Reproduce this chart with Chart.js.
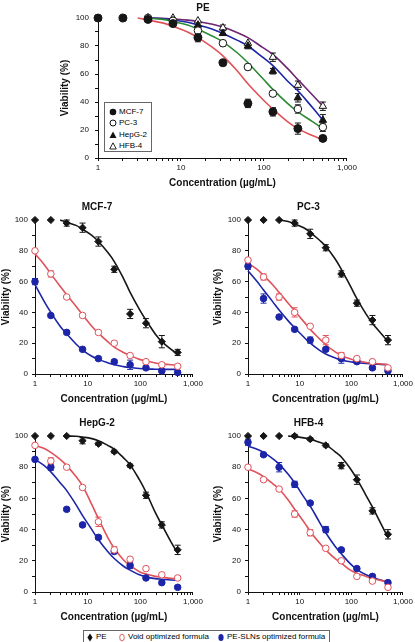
<!DOCTYPE html>
<html lang="en">
<head>
<meta charset="UTF-8">
<title>PE viability curves</title>
<script src="https://cdn.jsdelivr.net/npm/chart.js"></script>
<style>
  * { margin: 0; padding: 0; box-sizing: border-box; }
  body { width: 415px; height: 642px; background: #fff; position: relative; overflow: hidden;
         font-family: "Liberation Sans", Arial, sans-serif; }
  canvas { position: absolute; z-index: 1; }
  .legend { position: absolute; z-index: 5; background: #fff; border: 1px solid #666; font-size: 8px; color: #000; line-height: 1;
            opacity: 0.999; will-change: opacity; -webkit-font-smoothing: antialiased; }
  .legend .item { display: flex; align-items: center; white-space: nowrap; color: #000; }
  .legend svg { flex: none; }
  #topLegend { left: 104px; top: 102px; width: 48px; height: 50px; padding: 3px 0 0 4px; }
  #topLegend .item { height: 11.5px; }
  #topLegend svg { margin-right: 2px; }
  #bottomLegend { left: 83px; top: 630px; width: 247px; height: 13px; }
  #bottomLegend .item { position: absolute; top: 1px; height: 10px; }
  #bottomLegend svg { margin-right: 3px; }
</style>
</head>
<body>
<canvas id="cTop" width="300" height="191" style="left:59px;top:0px"></canvas>
<canvas id="cMcf" width="205" height="207" style="left:0px;top:200px"></canvas>
<canvas id="cPc" width="203" height="207" style="left:212px;top:200px"></canvas>
<canvas id="cHep" width="205" height="209" style="left:0px;top:416px"></canvas>
<canvas id="cHfb" width="203" height="209" style="left:212px;top:416px"></canvas>

<div class="legend" id="topLegend">
  <div class="item"><svg width="8" height="8"><circle cx="4" cy="4" r="3.3" fill="#111"/></svg>MCF-7</div>
  <div class="item"><svg width="8" height="8"><circle cx="4" cy="4" r="3" fill="#fff" stroke="#111" stroke-width="1"/></svg>PC-3</div>
  <div class="item"><svg width="8" height="8"><polygon points="4,0.5 7.5,7 0.5,7" fill="#111"/></svg>HepG-2</div>
  <div class="item"><svg width="8" height="8"><polygon points="4,0.8 7.3,7 0.7,7" fill="#fff" stroke="#111" stroke-width="0.9"/></svg>HFB-4</div>
</div>
<div class="legend" id="bottomLegend">
  <div class="item" style="left:3px"><svg width="6" height="9"><polygon points="3,0.5 5.6,4.5 3,8.5 0.4,4.5" fill="#111"/></svg>PE</div>
  <div class="item" style="left:35px"><svg width="6" height="9"><ellipse cx="3" cy="4.5" rx="2.3" ry="3.4" fill="#fff" stroke="#d9534f" stroke-width="0.9"/></svg>Void optimized formula</div>
  <div class="item" style="left:134px"><svg width="6" height="9"><ellipse cx="3" cy="4.5" rx="2.6" ry="3.6" fill="#1c25a8"/></svg>PE-SLNs optimized formula</div>
</div>

<script>
// concentrations (µg/mL) for measured points
const conc = [1, 2, 4, 8, 16, 32, 64, 128, 256, 512];
const fitConc = [1, 1.5, 2, 3, 4, 6, 8, 12, 16, 24, 32, 48, 64, 96, 128, 192, 256, 384, 512];
const xTickLabels = ['1', '10', '100', '1,000'];

// --- top panel: PE on four cell lines ---
const peMcf7 = [100, 100, 99, 96, 86, 68, 39, 33, 21, 14];
const peMcf7Err = [0, 0, 0, 2, 3, 0, 3, 3, 4, 2];
const pePc3 = [null, null, 100, 98, 91, 82, 65, 46, 35, 22];
const pePc3Err = [0, 0, 0, 0, 2, 2, 2, 2, 3, 3];
const peHep = [null, null, 100, 98, 95, 89, 80, 62, 43, 27];
const peHepErr = [0, 0, 0, 0, 0, 0, 2, 2, 3, 4];
const peHfb = [null, null, 100, 100, 98, 93, 82, 72, 52, 37];
const peHfbErr = [0, 0, 0, 0, 0, 2, 0, 3, 3, 3];

const fitPeMcf7 = [null, null, null, 100, 98.5, 96.5, 94, 90, 86, 79, 73, 62, 53, 42, 35, 26, 21, 16, 13];
const fitPePc3 = [null, null, null, null, 100, 99, 97.5, 95, 92, 87, 83, 75, 68, 57, 49, 39, 33, 26, 21];
const fitPeHep = [null, null, null, null, 100, 99.5, 98.5, 97, 95, 92, 89, 84, 80, 72, 66, 55, 48, 36, 27];
const fitPeHfb = [null, null, null, null, 100, 99.8, 99.3, 98.5, 97.5, 95.5, 93.5, 89.5, 86, 79, 74, 64, 56, 45, 37];

// --- MCF-7 panel ---
const mcfPe = [100, 100, 98, 95, 86, 68, 39, 33, 21, 14];
const mcfPeErr = [0, 0, 2, 3, 3, 2, 3, 3, 4, 2];
const mcfVoid = [80, 65, 50, 38, 27, 20, 12, 8, 6, 5];
const mcfVoidErr = [1, 2, 1, 1, 0, 1, 1, 0, 0, 0];
const mcfSln = [60, 38, 27, 16, 10, 8, 6, 4, 2, 1];
const mcfSlnErr = [2, 1, 1, 1, 1, 1, 3, 1, 1, 1];
const fitMcfPe = fitPeMcf7;
const fitMcfVoid = [78, 71, 65, 57, 51.5, 44, 38.5, 31, 26.5, 21, 17.5, 14, 12, 9.5, 8.5, 7.2, 6.6, 6, 5.8];
const fitMcfSln = [58, 47, 40, 31, 26, 19.5, 15.5, 11.5, 9.5, 7.3, 6, 4.8, 4.2, 3.6, 3.3, 3.1, 3, 3, 3];

// --- PC-3 panel ---
const pcPe = [100, 100, 100, 98, 91, 82, 65, 46, 35, 22];
const pcPeErr = [0, 0, 0, 2, 3, 2, 2, 2, 3, 3];
const pcVoid = [74, 63, 50, 40, 31, 22, 12, 10, 8, 4];
const pcVoidErr = [1, 2, 2, 3, 0, 3, 2, 0, 0, 0];
const pcSln = [70, 49, 37, 29, 22, 16, 10, 8, 4, 2];
const pcSlnErr = [2, 3, 1, 1, 2, 1, 3, 1, 1, 1];
const fitPcPe = fitPePc3;
const fitPcVoid = [72, 68, 64, 58, 53, 46, 41, 34, 29, 23, 19, 14.5, 12, 9.8, 8.7, 7.5, 7, 6.5, 6.2];
const fitPcSln = [67, 60, 54.5, 47, 41.5, 34.5, 30, 24, 20, 15.5, 13, 10.5, 9, 8, 7.3, 6.8, 6.5, 6.2, 6];

// --- HepG-2 panel ---
const hepPe = [100, 100, 100, 97, 95, 90, 81, 62, 43, 27];
const hepPeErr = [0, 0, 0, 2, 1, 1, 1, 2, 2, 3];
const hepVoid = [94, 84, 80, 67, 45, 27, 21, 15, 11, 9];
const hepVoidErr = [1, 2, 1, 1, 3, 2, 1, 1, 1, 1];
const hepSln = [85, 80, 53, 43, 35, 26, 17, 9, 6, 3];
const hepSlnErr = [1, 2, 1, 1, 1, 1, 2, 1, 1, 1];
const fitHepPe = [null, null, null, null, 100, 99.8, 99.3, 98.3, 97, 94, 91.5, 86, 81.5, 72, 64, 51, 43, 32, 25];
const fitHepVoid = [94, 92, 89.5, 85, 81, 74, 68, 56, 47, 35, 28, 20.5, 17, 13, 11.5, 10, 9.5, 8.8, 8.5];
const fitHepSln = [85, 81, 77, 70, 65, 56, 49, 40, 33.5, 26, 21.5, 16.5, 14, 11, 9.7, 8.6, 8.2, 7.7, 7.5];

// --- HFB-4 panel ---
const hfbPe = [100, 100, 100, 100, 98, 94, 81, 72, 52, 37];
const hfbPeErr = [0, 0, 0, 1, 1, 1, 2, 3, 2, 3];
const hfbVoid = [80, 72, 66, 50, 38, 28, 20, 10, 7, 3];
const hfbVoidErr = [1, 1, 1, 2, 2, 1, 1, 1, 1, 1];
const hfbSln = [96, 88, 80, 69, 57, 40, 27, 15, 10, 6];
const hfbSlnErr = [2, 1, 3, 2, 1, 2, 1, 1, 1, 1];
const fitHfbPe = [null, null, null, null, null, 99.9, 99.6, 98.8, 98, 96, 94.5, 90, 86.5, 79, 72.5, 62, 54.5, 43, 35];
const fitHfbVoid = [79, 76.5, 74, 69.5, 66, 59, 53, 45, 39, 31.5, 27, 21.5, 18.5, 14, 12, 10, 8.6, 7.3, 6.5];
const fitHfbSln = [93.5, 91.5, 89.5, 85.5, 82, 75.5, 70, 61, 55, 45, 38, 29.5, 24.5, 18, 14.5, 11, 9.5, 7.5, 6.5];

const BLACK = '#161616', RED = '#e0525a', BLUE = '#1c25a8', GREEN = '#2b8a33', PURPLE = '#6e2470';

Chart.defaults.font.family = '"Liberation Sans", Arial, sans-serif';
Chart.defaults.color = '#111';

function pts(xs, ys) {
  const out = [];
  xs.forEach((x, i) => { if (ys[i] !== null) out.push({ x: x, y: ys[i] }); });
  return out;
}

function markers(values, errs, style, color, fill, radius) {
  return {
    type: 'scatter', data: pts(conc, values), errs: errs.filter((e, i) => values[i] !== null),
    pointStyle: style, pointRadius: radius || 3.5, pointHoverRadius: radius || 3.5,
    borderColor: color, backgroundColor: fill, pointBorderWidth: 1, showLine: false, clip: false
  };
}

function curve(values, color) {
  return {
    type: 'scatter', data: pts(fitConc, values), showLine: true, pointRadius: 0,
    borderColor: color, borderWidth: 1.6, tension: 0.4, fill: false, clip: false
  };
}

// vertical error bars with caps, drawn under the markers
const errorBars = {
  id: 'errorBars',
  beforeDatasetsDraw(chart) {
    const ctx = chart.ctx, ys = chart.scales.y;
    chart.data.datasets.forEach((ds, di) => {
      if (!ds.errs) return;
      const meta = chart.getDatasetMeta(di);
      ctx.save();
      ctx.strokeStyle = ds.borderColor;
      ctx.lineWidth = 1;
      meta.data.forEach((p, i) => {
        const e = ds.errs[i];
        if (!e) return;
        const v = ds.data[i].y;
        const t = ys.getPixelForValue(v + e), b = ys.getPixelForValue(v - e);
        ctx.beginPath();
        ctx.moveTo(p.x, t); ctx.lineTo(p.x, b);
        ctx.moveTo(p.x - 3, t); ctx.lineTo(p.x + 3, t);
        ctx.moveTo(p.x - 3, b); ctx.lineTo(p.x + 3, b);
        ctx.stroke();
      });
      ctx.restore();
    });
  }
};

function makeChart(id, title, datasets, o) {
  const xTicks = [];
  [1, 10, 100].forEach(d => { for (let k = 1; k < 10; k++) xTicks.push(d * k); });
  xTicks.push(1000);
  new Chart(document.getElementById(id), {
    type: 'scatter',
    data: { datasets: datasets },
    plugins: [errorBars],
    options: {
      responsive: false,
      animation: false,
      layout: { padding: { top: 0, right: o.padRight, bottom: 0, left: 0 } },
      plugins: {
        legend: { display: false },
        tooltip: { enabled: false },
        title: {
          display: true, text: title, color: '#111',
          font: { size: 10, weight: 'bold' }, padding: o.titlePad
        }
      },
      scales: {
        x: {
          type: 'logarithmic', min: 1, max: 1000,
          afterBuildTicks: s => { s.ticks = xTicks.map(v => ({ value: v })); },
          afterFit: s => { s.height = 33; },
          border: { color: '#111', width: 1 },
          grid: { drawOnChartArea: false, drawTicks: true, tickLength: 3, color: '#111' },
          ticks: {
            autoSkip: false, maxRotation: 0, padding: 2, color: '#111', font: { size: 8 },
            callback: v => { const i = [1, 10, 100, 1000].indexOf(v); return i >= 0 ? xTickLabels[i] : ''; }
          },
          title: {
            display: true, text: 'Concentration (µg/mL)', color: '#111',
            font: { size: 10, weight: 'bold' }, padding: { top: 0, bottom: 2 }
          }
        },
        y: {
          min: 0, max: 100,
          afterBuildTicks: s => { const t = []; for (let v = 0; v <= 100; v += 10) t.push({ value: v }); s.ticks = t; },
          afterFit: s => { s.width = o.yWidth; },
          border: { color: '#111', width: 1 },
          grid: { drawOnChartArea: false, drawTicks: true, tickLength: 3, color: '#111' },
          ticks: {
            autoSkip: false, padding: o.yTickPad, color: '#111', font: { size: 8 },
            callback: v => (v % 20 === 0 ? String(v) : '')
          },
          title: {
            display: true, text: 'Viability (%)', color: '#111',
            font: { size: 10, weight: 'bold' }, padding: { top: 0, bottom: 0 }
          }
        }
      }
    }
  });
}

// top panel
makeChart('cTop', 'PE', [
  markers(peMcf7, peMcf7Err, 'circle', BLACK, BLACK, 4),
  markers(pePc3, pePc3Err, 'circle', BLACK, '#fff', 3.8),
  markers(peHep, peHepErr, 'triangle', BLACK, BLACK, 4.3),
  markers(peHfb, peHfbErr, 'triangle', BLACK, '#fff', 4.3),
  curve(fitPeMcf7, RED),
  curve(fitPePc3, GREEN),
  curve(fitPeHep, BLUE),
  curve(fitPeHfb, PURPLE)
], { padRight: 12, yWidth: 39, yTickPad: 6, titlePad: { top: 2, bottom: 4 } });

const panelOpts = (padRight, yWidth) => ({ padRight: padRight, yWidth: yWidth, yTickPad: 4, titlePad: { top: 1, bottom: 7 } });

function panel(id, title, pe, peErr, vd, vdErr, sl, slErr, fPe, fVd, fSl, padRight, yWidth) {
  makeChart(id, title, [
    markers(pe, peErr, 'rectRot', BLACK, BLACK, 3.6),
    markers(vd, vdErr, 'circle', RED, '#fff', 3.3),
    markers(sl, slErr, 'circle', BLUE, BLUE, 3.3),
    curve(fPe, BLACK),
    curve(fVd, RED),
    curve(fSl, BLUE)
  ], panelOpts(padRight, yWidth));
}

panel('cMcf', 'MCF-7', mcfPe, mcfPeErr, mcfVoid, mcfVoidErr, mcfSln, mcfSlnErr, fitMcfPe, fitMcfVoid, fitMcfSln, 11, 35);
panel('cPc', 'PC-3', pcPe, pcPeErr, pcVoid, pcVoidErr, pcSln, pcSlnErr, fitPcPe, fitPcVoid, fitPcSln, 10, 36);
panel('cHep', 'HepG-2', hepPe, hepPeErr, hepVoid, hepVoidErr, hepSln, hepSlnErr, fitHepPe, fitHepVoid, fitHepSln, 11, 35);
panel('cHfb', 'HFB-4', hfbPe, hfbPeErr, hfbVoid, hfbVoidErr, hfbSln, hfbSlnErr, fitHfbPe, fitHfbVoid, fitHfbSln, 10, 36);
</script>
</body>
</html>
